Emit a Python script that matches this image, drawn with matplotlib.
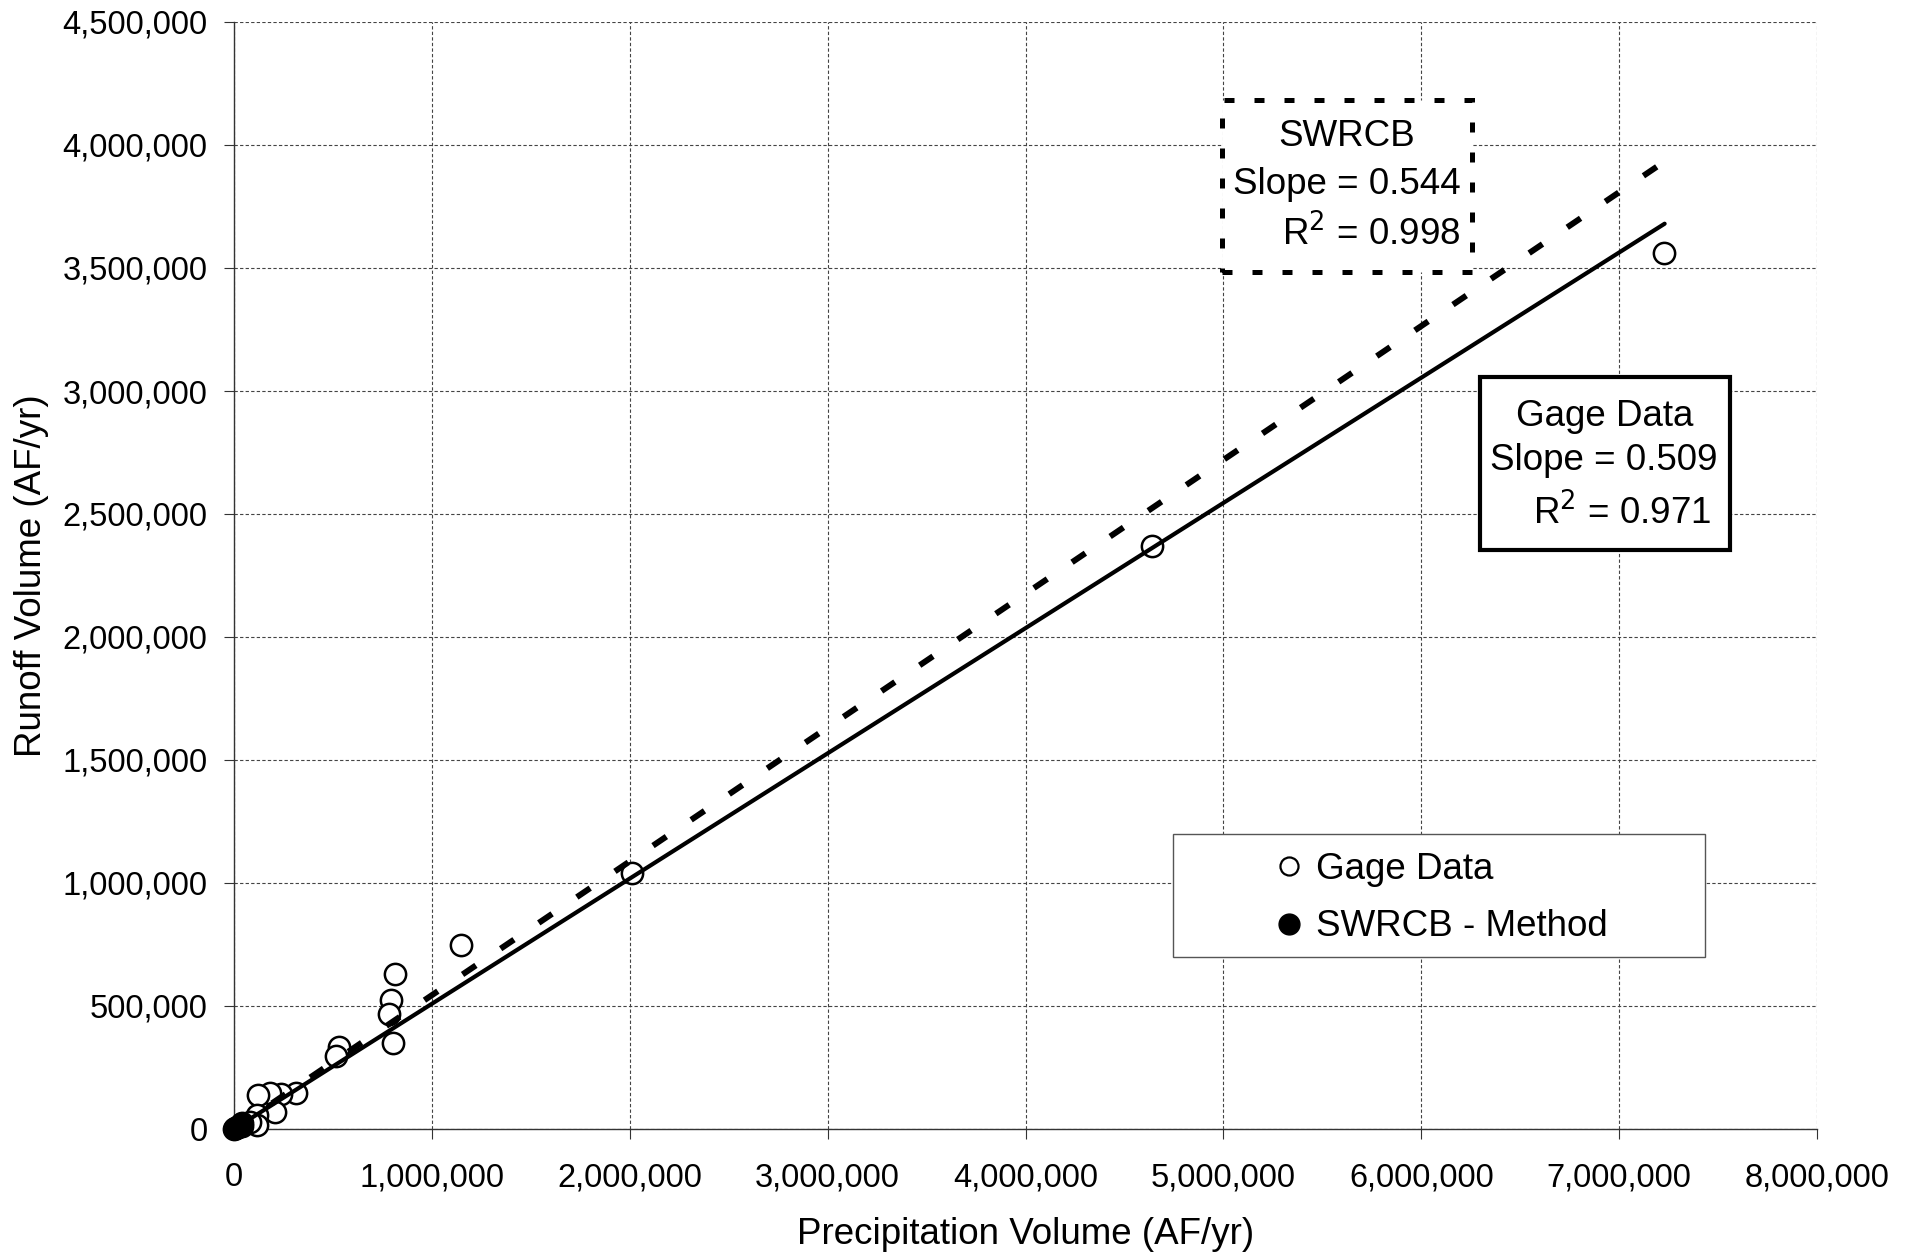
import numpy as np
import matplotlib.pyplot as plt
from matplotlib.patches import Rectangle
from matplotlib.ticker import FuncFormatter
from matplotlib.lines import Line2D

plt.rcParams['font.family'] = ['Liberation Sans', 'DejaVu Sans']

# gage data (AF/yr)
gage_x = [7226000, 4640000, 2012000, 1148000, 815000, 795000, 783000, 803000,
          529000, 517000, 312000, 240000, 180000, 121000, 206000, 118000,
          118000, 80000, 40000]
gage_y = [3560000, 2368000, 1040000, 750000, 629000, 524000, 467000, 348000,
          332000, 297000, 145000, 143000, 145000, 140000, 68000, 55000,
          18000, 30000, 12000]

# SWRCB method points
swrcb_x = [0, 5000, 10000, 18000, 25000, 33000, 40000]
swrcb_y = [0, 3000, 6000, 10000, 14000, 19000, 23000]

gage_slope, gage_r2 = 0.509, 0.971
swrcb_slope, swrcb_r2 = 0.544, 0.998
gage_xmax = 7230000
swrcb_xmax = 7190000

W, H = 1910, 1258
fig = plt.figure(figsize=(W / 100, H / 100), dpi=100)
ax = fig.add_axes([234 / W, 1 - 1129 / H, (1817 - 234) / W, (1129 - 22) / H])

ax.scatter(gage_x, gage_y, s=235, facecolor='white', edgecolor='black',
           linewidth=1.8, zorder=3, clip_on=False)
xl = np.array([0, gage_xmax])
ax.plot(xl, gage_slope * xl, color='black', lw=3.0, solid_capstyle='round', zorder=4)
xs = np.array([0, swrcb_xmax])
ax.plot(xs, swrcb_slope * xs, color='black', lw=4.3, linestyle=(0, (2.7, 5.0)),
        zorder=4)
ax.scatter(swrcb_x, swrcb_y, s=260, facecolor='black', edgecolor='black', zorder=5,
           clip_on=False)

ax.set_xlim(0, 8000000)
ax.set_ylim(0, 4500000)
ax.set_xticks(np.arange(0, 8000001, 1000000))
ax.set_yticks(np.arange(0, 4500001, 500000))
fmt = FuncFormatter(lambda v, p: f'{int(v):,}')
ax.xaxis.set_major_formatter(fmt)
ax.yaxis.set_major_formatter(fmt)
ax.tick_params(labelsize=23.5, direction='out', length=7, width=0.8, color='#333')
ax.tick_params(axis='x', pad=17)
ax.tick_params(axis='y', pad=12)
ax.grid(True, color='#444', linestyle=(0, (3, 2)), linewidth=0.8)
ax.set_axisbelow(True)
for s in ['top', 'right']:
    ax.spines[s].set_visible(False)
for s in ['left', 'bottom']:
    ax.spines[s].set_color('#333')
    ax.spines[s].set_linewidth(1.0)

ax.set_xlabel('Precipitation Volume (AF/yr)', fontsize=26.5, labelpad=17)
ax.set_ylabel('Runoff Volume (AF/yr)', fontsize=26.5, labelpad=10)

def fx(px):
    return px / W

def fy(py):
    return 1 - py / H

# SWRCB box (dotted)
fig.patches.append(Rectangle((fx(1222), fy(272)), fx(1472) - fx(1222), fy(100) - fy(272),
                             transform=fig.transFigure, facecolor='white',
                             edgecolor='black', lw=3.6, linestyle=(0, (2, 4)), zorder=6))
fig.text(fx(1347), fy(136), 'SWRCB', fontsize=26.5, ha='center', va='center', zorder=7)
fig.text(fx(1461), fy(184), f'Slope = {swrcb_slope:.3f}', fontsize=26.5, ha='right', va='center', zorder=7)
fig.text(fx(1461), fy(234), f'R$^2$ = {swrcb_r2:.3f}', fontsize=26.5, ha='right', va='center', zorder=7)

# Gage box (solid)
fig.patches.append(Rectangle((fx(1480), fy(550)), fx(1730) - fx(1480), fy(377) - fy(550),
                             transform=fig.transFigure, facecolor='white',
                             edgecolor='black', lw=3.0, zorder=6))
fig.text(fx(1605), fy(416), 'Gage Data', fontsize=26.5, ha='center', va='center', zorder=7)
fig.text(fx(1717), fy(461), f'Slope = {gage_slope:.3f}', fontsize=26.5, ha='right', va='center', zorder=7)
fig.text(fx(1711), fy(513), f'R$^2$ = {gage_r2:.3f}', fontsize=26.5, ha='right', va='center', zorder=7)

# legend box
fig.patches.append(Rectangle((fx(1173), fy(957)), fx(1705) - fx(1173), fy(834) - fy(957),
                             transform=fig.transFigure, facecolor='white',
                             edgecolor='#555', lw=1.0, zorder=6))
handles = [Line2D([], [], marker='o', ls='none', markersize=13, markerfacecolor='white',
                  markeredgecolor='black', markeredgewidth=1.6),
           Line2D([], [], marker='o', ls='none', markersize=15, markerfacecolor='black',
                  markeredgecolor='black')]
leg = fig.legend(handles, ['Gage Data', 'SWRCB - Method'], loc='center left',
                 bbox_to_anchor=(fx(1252), fy(898)), frameon=False, fontsize=26.5,
                 handlelength=1.0, handletextpad=0.25, labelspacing=0.62, borderpad=0)
leg.set_zorder(8)

fig.savefig('out.png', dpi=100)
